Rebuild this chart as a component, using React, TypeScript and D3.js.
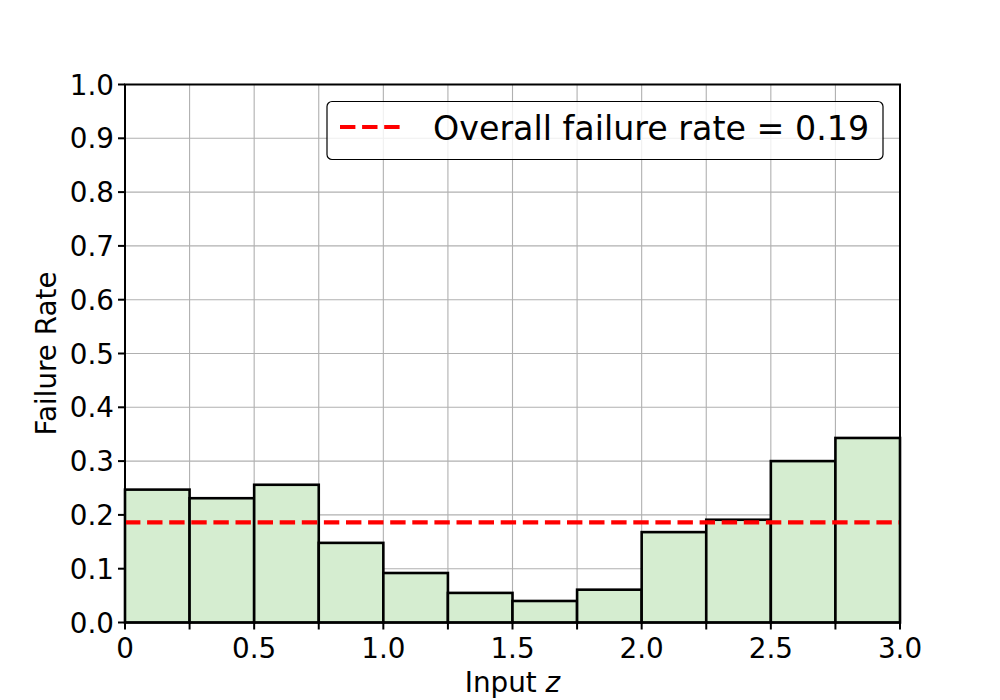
import React from "react";
import * as d3 from "d3";

const binEdges = [0, 0.25, 0.5, 0.75, 1.0, 1.25, 1.5, 1.75, 2.0, 2.25, 2.5, 2.75, 3.0];
const failureRates = [0.247, 0.231, 0.256, 0.148, 0.092, 0.055, 0.040, 0.061, 0.168, 0.191, 0.300, 0.343];
const overallRate = 0.186;
const overallLabel = "Overall failure rate = 0.19";
const xTickValues = [0, 0.25, 0.5, 0.75, 1.0, 1.25, 1.5, 1.75, 2.0, 2.25, 2.5, 2.75, 3.0];
const xTickLabels = ["0", "", "0.5", "", "1.0", "", "1.5", "", "2.0", "", "2.5", "", "3.0"];
const yTickValues = [0, 0.1, 0.2, 0.3, 0.4, 0.5, 0.6, 0.7, 0.8, 0.9, 1.0];

const W = 1000, H = 700;
const L = 125, R = 900, T = 84.5, B = 622.5;
const FONT = "'DejaVu Sans', sans-serif";

export default function App() {
  const x = d3.scaleLinear().domain([0, 3]).range([L, R]);
  const y = d3.scaleLinear().domain([0, 1]).range([B, T]);
  return (
    <svg width={W} height={H} style={{ position: "absolute", left: 0, top: 0 }} fontFamily={FONT}>
      <rect x={0} y={0} width={W} height={H} fill="#fff" />
      {/* grid */}
      {xTickValues.map((v, i) => (
        <line key={"gx" + i} x1={x(v)} x2={x(v)} y1={T} y2={B} stroke="#b0b0b0" strokeWidth={1.1} />
      ))}
      {yTickValues.map((v, i) => (
        <line key={"gy" + i} x1={L} x2={R} y1={y(v)} y2={y(v)} stroke="#b0b0b0" strokeWidth={1.1} />
      ))}
      {/* bars */}
      {failureRates.map((r, i) => (
        <rect key={"b" + i} x={x(binEdges[i])} y={y(r)} width={x(binEdges[i + 1]) - x(binEdges[i])}
          height={y(0) - y(r)} fill="#d5edd0" stroke="#000" strokeWidth={2.6} />
      ))}
      {/* overall line */}
      <line x1={L} x2={R} y1={y(overallRate)} y2={y(overallRate)} stroke="#ff0000" strokeWidth={4.2}
        strokeDasharray="15.4 6.7" />
      {/* spines */}
      <rect x={L} y={T} width={R - L} height={B - T} fill="none" stroke="#000" strokeWidth={2} />
      {/* x ticks */}
      {xTickValues.map((v, i) => (
        <g key={"xt" + i}>
          <line x1={x(v)} x2={x(v)} y1={B} y2={B + 7} stroke="#000" strokeWidth={2} />
          <text x={x(v)} y={B + 35} textAnchor="middle" fontSize={27.8} fill="#000">{xTickLabels[i]}</text>
        </g>
      ))}
      {/* y ticks */}
      {yTickValues.map((v, i) => (
        <g key={"yt" + i}>
          <line x1={L - 7} x2={L} y1={y(v)} y2={y(v)} stroke="#000" strokeWidth={2} />
          <text x={L - 11} y={y(v) + 10} textAnchor="end" fontSize={27.8} fill="#000">{v.toFixed(1)}</text>
        </g>
      ))}
      {/* axis labels */}
      <text x={(L + R) / 2} y={692} textAnchor="middle" fontSize={27.8} fill="#000">
        Input <tspan fontStyle="italic">z</tspan>
      </text>
      <text transform={`translate(56, ${(T + B) / 2}) rotate(-90)`} textAnchor="middle" fontSize={27.8} fill="#000">
        Failure Rate
      </text>
      {/* legend */}
      <rect x={327} y={101.5} width={556} height={58} rx={5} ry={5} fill="#fff" fillOpacity={0.8} stroke="#000" strokeWidth={1.2} />
      <line x1={340} x2={400} y1={127} y2={127} stroke="#ff0000" strokeWidth={4.2} strokeDasharray="15.4 6.7" />
      <text x={433} y={140} fontSize={33.3} fill="#000">{overallLabel}</text>
    </svg>
  );
}
